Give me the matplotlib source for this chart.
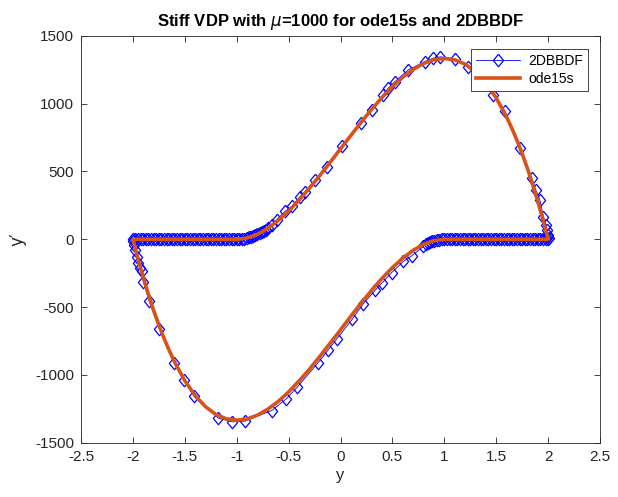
import matplotlib
matplotlib.use("Agg")
import matplotlib.pyplot as plt

plt.rcParams['font.family'] = ['Liberation Sans', 'DejaVu Sans']

# ode15s solution (limit cycle), y and y'
ode_y = [-1.0, -0.9, -0.8, -0.7, -0.6, -0.5, -0.4, -0.3, -0.2, -0.1, 0.0, 0.1, 0.2, 0.3, 0.4,
         0.5, 0.6, 0.7, 0.8, 0.9, 1.0, 1.1, 1.2, 1.3, 1.4, 1.5, 1.6, 1.65, 1.7, 1.75, 1.8, 1.85,
         1.9, 1.95, 1.98, 2.0,
         1.5, 1.0,
         0.9, 0.8, 0.7, 0.6, 0.5, 0.4, 0.3, 0.2, 0.1, 0.0, -0.1, -0.2, -0.3, -0.4, -0.5, -0.6,
         -0.7, -0.8, -0.9, -1.0, -1.1, -1.2, -1.3, -1.4, -1.5, -1.6, -1.65, -1.7, -1.75, -1.8,
         -1.85, -1.9, -1.95, -1.98, -2.0,
         -1.5, -1.0]
ode_dy = [0, 10, 37, 81, 139, 208, 288, 376, 469, 567, 667, 766, 864, 958, 1045,
          1125, 1195, 1252, 1296, 1324, 1333, 1323, 1291, 1234, 1152, 1042, 901, 819, 729, 630, 523, 406,
          280, 145, 59, 0,
          0, 0,
          -10, -37, -81, -139, -208, -288, -376, -469, -567, -667, -766, -864, -958, -1045, -1125, -1195,
          -1252, -1296, -1324, -1333, -1323, -1291, -1234, -1152, -1042, -901, -819, -729, -630, -523,
          -406, -280, -145, -59, 0,
          0, 0]

# 2DBBDF solution points
bdf_y = [-0.98, -0.95, -0.93, -0.9, -0.88, -0.86, -0.84, -0.82, -0.8, -0.78, -0.76, -0.74, -0.72, -0.7,
         -0.66, -0.615, -0.535, -0.47, -0.39, -0.342, -0.246, -0.133, 0.01, 0.194, 0.3, 0.41, 0.46,
         0.525, 0.653, 0.814, 0.894, 0.96, 1.1, 1.23, 1.35, 1.47, 1.585, 1.73, 1.84, 1.883, 1.92,
         1.954, 1.98, 1.99, 2.0, 2.01,
         2.0, 1.975, 1.95, 1.925, 1.9, 1.875, 1.85, 1.825, 1.8, 1.775, 1.75, 1.725, 1.7, 1.675,
         1.65, 1.625, 1.6, 1.575, 1.55, 1.525, 1.5, 1.475, 1.45, 1.425, 1.4, 1.375, 1.35, 1.325,
         1.3, 1.275, 1.25, 1.225, 1.2, 1.175, 1.15, 1.125, 1.1, 1.075, 1.05, 1.025, 1.0,
         0.98, 0.95, 0.93, 0.9, 0.88, 0.86, 0.84, 0.82, 0.798, 0.686, 0.605, 0.493, 0.397, 0.332,
         0.22, 0.114, -0.037, -0.117, -0.214, -0.416, -0.525, -0.663, -0.92, -1.048, -1.177,
         -1.411, -1.508, -1.604, -1.746, -1.842, -1.9, -1.915, -1.93, -1.948, -1.963, -1.98,
         -1.99, -2.0,
         -2.0, -1.975, -1.95, -1.925, -1.9, -1.875, -1.85, -1.825, -1.8, -1.775, -1.75, -1.725,
         -1.7, -1.675, -1.65, -1.625, -1.6, -1.575, -1.55, -1.525, -1.5, -1.475, -1.45, -1.425,
         -1.4, -1.375, -1.35, -1.325, -1.3, -1.275, -1.25, -1.225, -1.2, -1.175, -1.15, -1.125,
         -1.1, -1.075, -1.05, -1.025, -1.0]
bdf_dy = [0, 2, 5, 10, 14, 19, 24, 31, 37, 45, 53, 62, 71, 81,
          107, 144, 205, 242, 315, 352, 438, 536, 684, 856, 954, 1065, 1114,
          1163, 1249, 1310, 1335, 1345, 1330, 1273, 1190, 1065, 942, 672, 452, 360, 291,
          168, 107, 70, 30, 10,
          0, 0, 0, 0, 0, 0, 0, 0, 0, 0, 0, 0, 0, 0,
          0, 0, 0, 0, 0, 0, 0, 0, 0, 0, 0, 0, 0, 0,
          0, 0, 0, 0, 0, 0, 0, 0, 0, 0, 0, 0, 0,
          0, -2, -5, -10, -14, -19, -24, -31, -53, -122, -163, -245, -323, -377,
          -475, -588, -735, -814, -908, -1089, -1178, -1262, -1340, -1345, -1318,
          -1158, -1035, -912, -660, -458, -311, -237, -212, -175, -130, -77,
          -40, -16,
          0, 0, 0, 0, 0, 0, 0, 0, 0, 0, 0, 0,
          0, 0, 0, 0, 0, 0, 0, 0, 0, 0, 0, 0,
          0, 0, 0, 0, 0, 0, 0, 0, 0, 0, 0, 0,
          0, 0, 0, 0, 0]

xticks = [-2.5, -2, -1.5, -1, -0.5, 0, 0.5, 1, 1.5, 2, 2.5]
xticklabels = ['-2.5', '-2', '-1.5', '-1', '-0.5', '0', '0.5', '1', '1.5', '2', '2.5']
yticks = [-1500, -1000, -500, 0, 500, 1000, 1500]
yticklabels = ['-1500', '-1000', '-500', '0', '500', '1000', '1500']

fig = plt.figure(figsize=(6.18, 4.97), dpi=100)
ax = fig.add_axes([0.131, 0.109, 0.84, 0.819])

axc = '#262626'
diamond = [(0, 1), (0.82, 0), (0, -1), (-0.82, 0), (0, 1)]
ax.plot(bdf_y, bdf_dy, '-', color='blue', lw=0.6, marker=diamond, markersize=9,
        markerfacecolor='none', markeredgecolor='blue', markeredgewidth=0.9, label='2DBBDF')
ax.plot(ode_y, ode_dy, '-', color='#D95319', lw=2.6, label='ode15s')

ax.set_xlim(-2.5, 2.5)
ax.set_ylim(-1500, 1500)
ax.set_xticks(xticks)
ax.set_xticklabels(xticklabels)
ax.set_yticks(yticks)
ax.set_yticklabels(yticklabels)
ax.tick_params(direction='in', top=True, right=True, length=4, width=0.6,
               colors=axc, labelsize=11, pad=5)
for s in ax.spines.values():
    s.set_color(axc)
    s.set_linewidth(0.6)

ax.set_title(r'Stiff VDP with $\mu$=1000 for ode15s and 2DBBDF', fontsize=12,
             fontweight='bold', color='black', pad=7)
ax.set_xlabel('y', fontsize=12, color=axc, labelpad=3)
ax.set_ylabel('y\u2032', fontsize=12, color=axc, labelpad=6, family=['DejaVu Sans'])

leg = ax.legend(loc='upper right', bbox_to_anchor=(0.977, 0.968), fontsize=10,
                frameon=True, fancybox=False, borderpad=0.35, handlelength=3.2,
                handletextpad=0.6, labelspacing=0.3, borderaxespad=0)
leg.get_frame().set_edgecolor(axc)
leg.get_frame().set_linewidth(0.6)
leg.get_frame().set_alpha(1)

fig.savefig('out.png', dpi=100)
